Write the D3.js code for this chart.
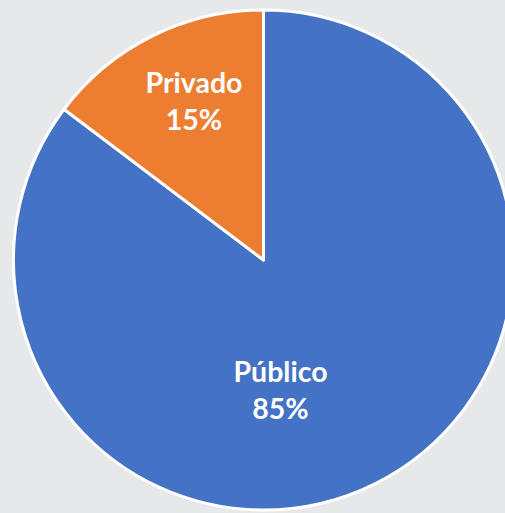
<!DOCTYPE html>
<html>
<head>
<meta charset="utf-8">
<script src="https://cdn.jsdelivr.net/npm/d3@7"></script>
<style>
  html, body { margin: 0; padding: 0; background: #e7e8ea; }
  svg { display: block; }
  .lbl { font-family: Lato, "Open Sans", sans-serif; font-weight: bold; fill: #fff; }
</style>
</head>
<body>
<div class="pie-chart"></div>
<script>
"use strict";
// data
var categories = ["Público", "Privado"];
var shares = [85.3, 14.7];
var shareLabels = ["85%", "15%"];
var colors = ["#4472c4", "#ed7d31"];

var width = 505, height = 513;
var cx = 263.5, cy = 260, radius = 250;

var svg = d3.select(".pie-chart").append("svg")
    .attr("width", width)
    .attr("height", height);

var g = svg.append("g")
    .attr("transform", "translate(" + cx + "," + cy + ")");

var data = categories.map(function(c, i){
  return { name: c, value: shares[i], label: shareLabels[i], color: colors[i] };
});

var pie = d3.pie()
    .sort(null)
    .value(function(d){ return d.value; });

var arc = d3.arc().innerRadius(0).outerRadius(radius);

var arcs = pie(data);

g.selectAll(".slice")
  .data(arcs).enter()
  .append("path").attr("class", "slice")
  .attr("d", arc)
  .style("fill", function(d){ return d.data.color; })
  .style("stroke", "#fff")
  .style("stroke-width", 3)
  .style("stroke-linejoin", "round");

// label spots, picked by eye (angle in degrees clockwise from top, distance from centre)
var labelSpots = [[172.6, 132], [-23.7, 173]];

var labels = g.selectAll(".lblGroup")
  .data(arcs).enter()
  .append("g").attr("class", "lblGroup")
  .attr("transform", function(d, i){
    var a = labelSpots[i][0] * Math.PI / 180, r = labelSpots[i][1];
    return "translate(" + (r * Math.sin(a)) + "," + (-r * Math.cos(a)) + ")";
  });

labels.append("text").attr("class", "lbl")
  .attr("text-anchor", "middle")
  .attr("y", -9)
  .style("font-size", "28.5px")
  .text(function(d){ return d.data.name; });

labels.append("text").attr("class", "lbl")
  .attr("text-anchor", "middle")
  .attr("y", 28)
  .style("font-size", "28.5px")
  .text(function(d){ return d.data.label; });
</script>
</body>
</html>
